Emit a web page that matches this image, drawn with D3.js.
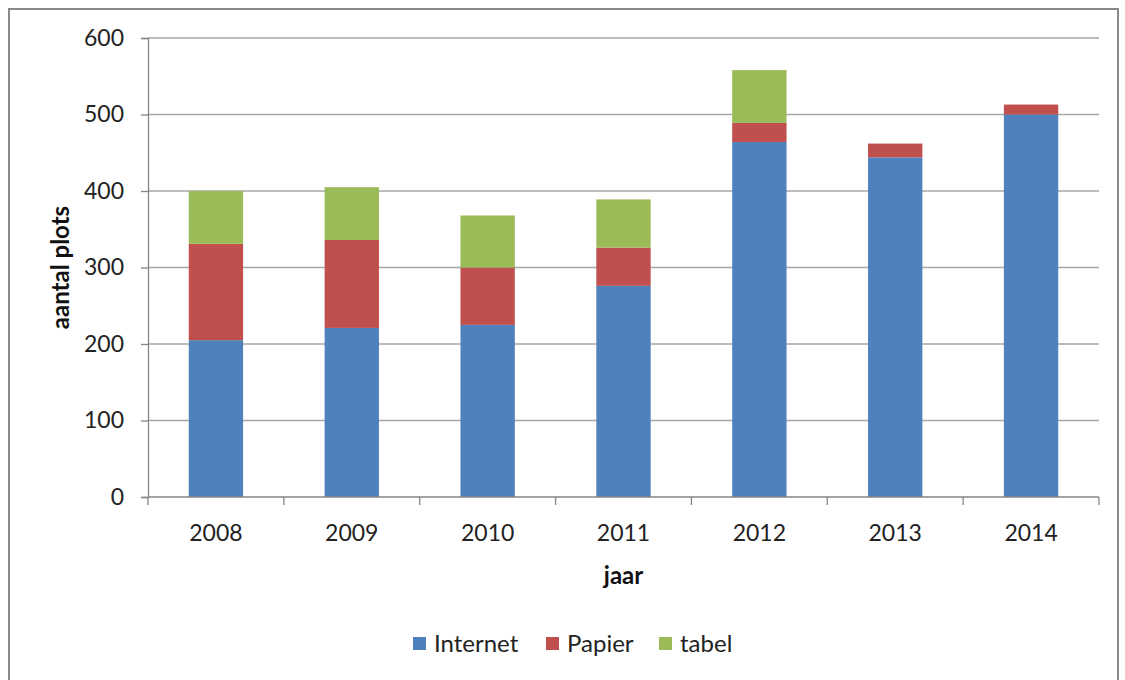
<!DOCTYPE html>
<html>
<head>
<meta charset="utf-8">
<script src="https://cdn.jsdelivr.net/npm/d3@7"></script>
<style>
  body { margin: 0; background: #fff; }
  svg { font-family: Lato, "Open Sans", sans-serif; }
</style>
</head>
<body>
<div id="chart"></div>
<script>
const years = ['2008', '2009', '2010', '2011', '2012', '2013', '2014'];
const internet = [205, 221, 225, 276, 464, 444, 500];
const papier = [126, 115, 75, 50, 25, 18, 13];
const tabel = [69, 69, 68, 63, 69, 0, 0];
const seriesNames = ['Internet', 'Papier', 'tabel'];
const yTicks = [0, 100, 200, 300, 400, 500, 600];

const colors = d3.scaleOrdinal()
  .domain(seriesNames)
  .range(['#4F81BD', '#C0504D', '#9BBB59']);

const W = 1125, H = 680;
const margin = { left: 148, right: 25, top: 38, bottom: 183 };

const svg = d3.select('#chart').append('svg')
  .attr('width', W)
  .attr('height', H);

// outer frame
svg.append('rect')
  .attr('x', 9).attr('y', 9)
  .attr('width', 1109).attr('height', 690)
  .attr('fill', 'none')
  .attr('stroke', '#898989')
  .attr('stroke-width', 2);

const x = d3.scaleBand()
  .domain(years)
  .range([margin.left, W - margin.right - 1])
  .paddingInner(0.6)
  .paddingOuter(0.3);

const y = d3.scaleLinear()
  .domain([0, 600])
  .range([H - margin.bottom, margin.top]);

// gridlines
svg.append('g')
  .selectAll('line')
  .data(yTicks.filter(d => d > 0))
  .join('line')
  .attr('x1', margin.left)
  .attr('x2', x.range()[1])
  .attr('y1', d => y(d))
  .attr('y2', d => y(d))
  .attr('stroke', '#A6A6A6')
  .attr('stroke-width', 1.3);

// stacked bars
const table = years.map((yr, i) => ({
  year: yr, Internet: internet[i], Papier: papier[i], tabel: tabel[i]
}));
const stack = d3.stack().keys(seriesNames)(table);

svg.append('g')
  .selectAll('g')
  .data(stack)
  .join('g')
  .attr('fill', d => colors(d.key))
  .selectAll('rect')
  .data(d => d.filter(p => p[1] > p[0]))
  .join('rect')
  .attr('x', d => x(d.data.year))
  .attr('width', x.bandwidth())
  .attr('y', d => y(d[1]))
  .attr('height', d => y(d[0]) - y(d[1]));

// y axis
const yAxis = svg.append('g')
  .attr('transform', `translate(${margin.left},0)`)
  .call(d3.axisLeft(y).tickValues(yTicks).tickSize(7).tickPadding(17));
yAxis.select('.domain').attr('stroke', '#868686').attr('stroke-width', 1.3);
yAxis.selectAll('.tick line').attr('stroke', '#868686').attr('stroke-width', 1.3);
yAxis.selectAll('.tick text')
  .attr('font-size', 23)
  .attr('fill', '#222')
  .attr('font-family', 'Lato, sans-serif');

// x axis with ticks between categories
const xAxisG = svg.append('g')
  .attr('transform', `translate(0,${y(0)})`);
xAxisG.append('line')
  .attr('x1', margin.left).attr('x2', x.range()[1])
  .attr('stroke', '#868686').attr('stroke-width', 1.3);
const step = x.step();
const bounds = years.map(d => x(d) - (step - x.bandwidth()) / 2).concat([x.range()[1]]);
xAxisG.selectAll('line.tk')
  .data(bounds)
  .join('line')
  .attr('class', 'tk')
  .attr('x1', d => d).attr('x2', d => d)
  .attr('y1', 0).attr('y2', 8)
  .attr('stroke', '#868686').attr('stroke-width', 1.3);
xAxisG.selectAll('text')
  .data(years)
  .join('text')
  .attr('x', d => x(d) + x.bandwidth() / 2)
  .attr('y', 44)
  .attr('text-anchor', 'middle')
  .attr('font-size', 23)
  .attr('fill', '#222')
  .text(d => d);

// axis titles
svg.append('text')
  .attr('transform', `translate(69,${(y(0) + y(600)) / 2}) rotate(-90)`)
  .attr('text-anchor', 'middle')
  .attr('font-size', 24)
  .attr('font-weight', 'bold')
  .attr('fill', '#111')
  .text('aantal plots');

svg.append('text')
  .attr('x', (margin.left + x.range()[1]) / 2)
  .attr('y', 584)
  .attr('text-anchor', 'middle')
  .attr('font-size', 24)
  .attr('font-weight', 'bold')
  .attr('fill', '#111')
  .text('jaar');

// legend
const legendX = [413, 546, 659];
const legend = svg.append('g')
  .selectAll('g')
  .data(seriesNames)
  .join('g')
  .attr('transform', (d, i) => `translate(${legendX[i]},644)`);
legend.append('rect')
  .attr('x', 0).attr('y', -7)
  .attr('width', 13).attr('height', 13)
  .attr('fill', d => colors(d));
legend.append('text')
  .attr('x', 21)
  .attr('y', 8)
  .attr('font-size', 24)
  .attr('fill', '#222')
  .text(d => d);
</script>
</body>
</html>
